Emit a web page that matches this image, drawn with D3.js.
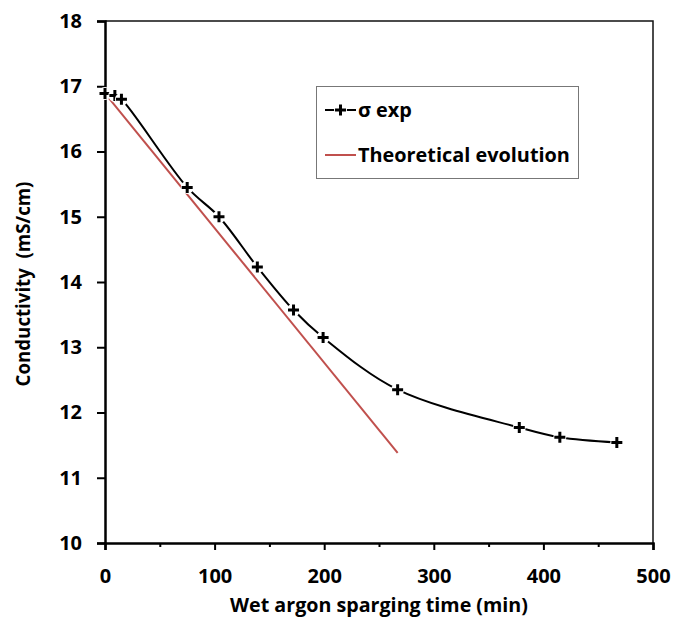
<!DOCTYPE html>
<html><head><meta charset="utf-8">
<script src="https://cdn.jsdelivr.net/npm/d3@7"></script>
<style>body{margin:0;background:#fff}svg{display:block}</style>
</head><body>
<script>
// Data
const expTime = [0, 9, 15, 75, 104, 139, 172, 199, 267, 378, 415, 467];
const expSigma = [16.89, 16.86, 16.80, 15.45, 15.00, 14.23, 13.57, 13.15, 12.35, 11.77, 11.62, 11.54];
const theoTime = [0, 267];
const theoSigma = [16.89, 11.38];
const xTicks = [0, 100, 200, 300, 400, 500];
const xMinorTicks = [50, 150, 250, 350, 450];
const yTicks = [10, 11, 12, 13, 14, 15, 16, 17, 18];
const legendLabels = ["σ exp", "Theoretical evolution"];
const xTitle = "Wet argon sparging time (min)";
const yTitle = "Conductivity  (mS/cm)";

const W = 673, H = 619;
const m = {l: 105, r: 20, t: 21, b: 76};
const font = "'Open Sans', Lato, sans-serif";

const svg = d3.select("body").append("svg").attr("width", W).attr("height", H);

function fit(sel, target) {
  const len = sel.node().getComputedTextLength();
  const fs = parseFloat(sel.attr("font-size"));
  sel.attr("font-size", (fs * target / len).toFixed(2));
}

const x = d3.scaleLinear().domain([0, 500]).range([m.l, W - m.r]);
const y = d3.scaleLinear().domain([10, 18]).range([H - m.b, m.t]);

// frame (top/right)
svg.append("path")
  .attr("d", `M${x(0)},${y(18)}H${x(500)}V${y(10)}`)
  .attr("fill", "none").attr("stroke", "#111").attr("stroke-width", 1.5);

// axes
svg.append("g").attr("transform", `translate(0,${y(10)})`)
  .call(d3.axisBottom(x).tickValues(xTicks).tickSize(7).tickPadding(19).tickFormat(d3.format("d")));
svg.append("g").attr("transform", `translate(0,${y(10)})`)
  .call(d3.axisBottom(x).tickValues(xMinorTicks).tickSize(4).tickFormat(""))
  .call(g => g.select(".domain").remove());
svg.append("g").attr("transform", `translate(${x(0)},0)`)
  .call(d3.axisLeft(y).tickValues(yTicks).tickSize(8).tickPadding(15).tickFormat(d3.format("d")));

svg.selectAll(".domain").attr("stroke", "#000").attr("stroke-width", 2.5);
svg.selectAll(".tick line").attr("stroke", "#000").attr("stroke-width", 2);
svg.selectAll(".tick text").attr("font-family", font).attr("font-weight", "bold")
  .attr("font-size", 20).attr("fill", "#000");

// titles
const xt = svg.append("text").attr("x", (x(0) + x(500)) / 2).attr("y", 612)
  .attr("text-anchor", "middle").attr("font-family", font).attr("font-weight", "bold")
  .attr("font-size", 18).text(xTitle);
fit(xt, 298);
const yt = svg.append("text").attr("transform", `translate(30,${(y(10) + y(18)) / 2 + 2}) rotate(-90)`)
  .attr("text-anchor", "middle").attr("font-family", font).attr("font-weight", "bold")
  .attr("font-size", 18).attr("xml:space", "preserve").style("white-space", "pre").text(yTitle);
fit(yt, 205);

// theoretical line
const line = d3.line().x(d => x(d[0])).y(d => y(d[1]));
svg.append("path").datum(theoTime.map((t, i) => [t, theoSigma[i]]))
  .attr("d", line).attr("fill", "none").attr("stroke", "#c0504d").attr("stroke-width", 2);

// experimental smoothed line
const expData = expTime.map((t, i) => [t, expSigma[i]]);
svg.append("path").datum(expData)
  .attr("d", d3.line().x(d => x(d[0])).y(d => y(d[1])).curve(d3.curveCatmullRom.alpha(0.5)))
  .attr("fill", "none").attr("stroke", "#000").attr("stroke-width", 2);

function plus(g, cx, cy) {
  g.append("circle").attr("cx", cx).attr("cy", cy).attr("r", 6.5).attr("fill", "#fff");
  g.append("path").attr("d", `M${cx - 5.5},${cy}H${cx + 5.5}M${cx},${cy - 5.5}V${cy + 5.5}`)
    .attr("stroke", "#000").attr("stroke-width", 3);
}
const mk = svg.append("g");
expData.forEach(d => plus(mk, x(d[0]), y(d[1])));

// legend
const lg = svg.append("g");
lg.append("rect").attr("x", 316.5).attr("y", 86.5).attr("width", 262).attr("height", 92)
  .attr("fill", "#fff").attr("stroke", "#777").attr("stroke-width", 1);
lg.append("line").attr("x1", 325).attr("x2", 356).attr("y1", 110).attr("y2", 110)
  .attr("stroke", "#000").attr("stroke-width", 2);
plus(lg, 340.5, 110);
lg.append("line").attr("x1", 325).attr("x2", 356).attr("y1", 155).attr("y2", 155)
  .attr("stroke", "#c0504d").attr("stroke-width", 2);
const lt = lg.selectAll("text.lt").data(legendLabels).enter().append("text")
  .attr("class", "lt")
  .attr("x", 358).attr("y", (d, i) => 117 + i * 45)
  .attr("font-family", font).attr("font-weight", "bold").attr("font-size", 19).text(d => d);
// size both entries so the longer one matches the reference width
const l2 = d3.select(lt.nodes()[1]);
fit(l2, 212);
lt.attr("font-size", l2.attr("font-size"));
</script>
</body></html>
